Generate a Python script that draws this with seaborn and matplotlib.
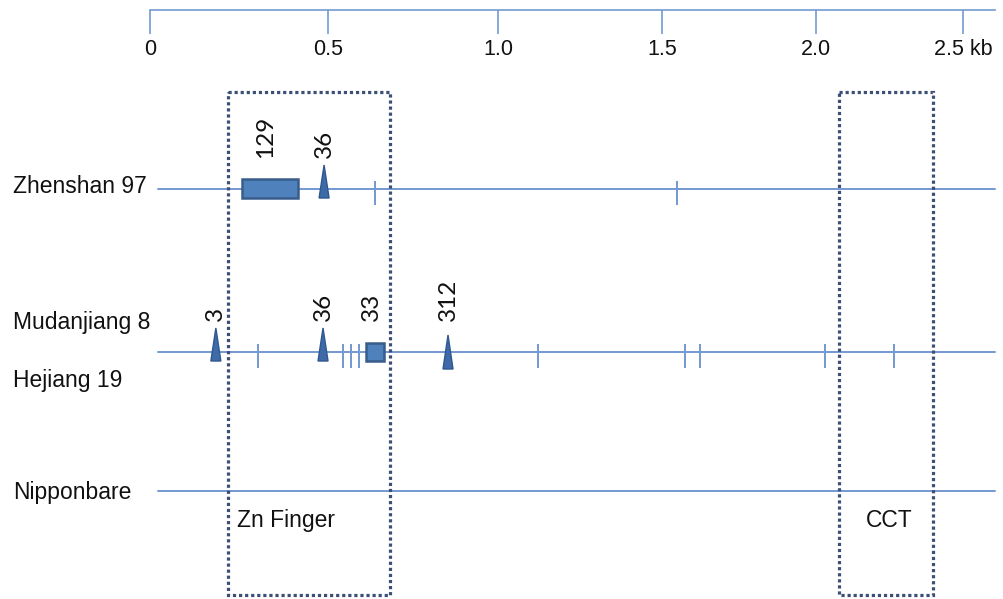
import numpy as np
import pandas as pd
import matplotlib
matplotlib.use("Agg")
import matplotlib.pyplot as plt
from matplotlib.patches import Rectangle, Polygon
import seaborn as sns

# ---------------- data (positions in kb) ----------------
ruler_kb = [0.0, 0.5, 1.0, 1.5, 2.0, 2.5]
ruler_labels = ["0", "0.5", "1.0", "1.5", "2.0", "2.5 kb"]

gene_rows = ["Zhenshan 97", "Mudanjiang 8 / Hejiang 19", "Nipponbare"]
gene_start = [0.022, 0.022, 0.022]
gene_end = [2.609, 2.609, 2.609]

row_names = ["Zhenshan 97", "Mudanjiang 8", "Hejiang 19", "Nipponbare"]

# Zhenshan 97 polymorphisms
zs_box_start = [0.258]
zs_box_end = [0.416]
zs_box_labels = ["129"]
zs_tri_pos = [0.489]
zs_tri_labels = ["36"]
zs_snps = [0.638, 1.549]

# Mudanjiang 8 / Hejiang 19 polymorphisms
mj_tri_pos = [0.185, 0.486, 0.853]
mj_tri_labels = ["3", "36", "312"]
mj_box_start = [0.612]
mj_box_end = [0.665]
mj_box_labels = ["33"]
mj_snps = [0.303, 0.544, 0.568, 0.591, 1.122, 1.575, 1.623, 2.031, 2.265]

domain_names = ["Zn Finger", "CCT"]
domain_start = [0.219, 2.078]
domain_end = [0.682, 2.398]

# ---------------- layout / style ----------------
W, H = 1004, 599
ruler_px = [150, 328, 498, 662, 816, 963]   # where the ruler's ticks sit
row_y = [189, 352, 491]                     # gene backbone rows (px from top)
name_y = [193, 329, 387, 499]               # baselines of the strain names
tri_tip = {"312": -17}
tri_base = {"312": 17}

LINE = "#7399d2"
FILL = "#4f81bd"
EDGE = "#385d8a"
TRI_FILL = "#3e6aa8"
TRI_EDGE = "#2f5890"
BOX = "#3c4f76"
TXT = "#111111"

K = np.array(ruler_kb, float)
P = np.array(ruler_px, float)


def fwd(v):
    v = np.asarray(v, float)
    shp = v.shape
    v = np.atleast_1d(v).copy()
    out = np.interp(v, K, P)
    lo = v < K[0]
    hi = v > K[-1]
    out[lo] = P[0] + (v[lo] - K[0]) * (P[1] - P[0]) / (K[1] - K[0])
    out[hi] = P[-1] + (v[hi] - K[-1]) * (P[-1] - P[-2]) / (K[-1] - K[-2])
    return out.reshape(shp)


def inv(p):
    p = np.asarray(p, float)
    shp = p.shape
    p = np.atleast_1d(p).copy()
    out = np.interp(p, P, K)
    lo = p < P[0]
    hi = p > P[-1]
    out[lo] = K[0] + (p[lo] - P[0]) * (K[1] - K[0]) / (P[1] - P[0])
    out[hi] = K[-1] + (p[hi] - P[-1]) * (K[-1] - K[-2]) / (P[-1] - P[-2])
    return out.reshape(shp)


sns.set_theme(style="white")
plt.rcParams["font.family"] = ["Liberation Sans", "DejaVu Sans"]

fig = plt.figure(figsize=(W / 100, H / 100), dpi=100)
fig.patch.set_facecolor("white")
ax = fig.add_axes([0, 0, 1, 1])
ax.set_xscale("function", functions=(fwd, inv))
ax.set_xlim(float(inv(0)), float(inv(W)))
ax.set_ylim(H, 0)
ax.axis("off")

# ---------------- ruler (a real axis) ----------------
ruler_end = float(inv(995))
axr = fig.add_axes([P[0] / W, 1 - 10 / H, (995 - P[0]) / W, 0.0005])
axr.set_xscale("function", functions=(fwd, inv))
axr.set_xlim(0, ruler_end)
axr.set_yticks([])
for s in ["top", "left", "right"]:
    axr.spines[s].set_visible(False)
axr.spines["bottom"].set_color(LINE)
axr.spines["bottom"].set_linewidth(1.2)
axr.set_xticks(ruler_kb)
axr.set_xticklabels(ruler_labels)
axr.tick_params(axis="x", bottom=True, direction="out", length=17.5, width=1.2,
                color=LINE, pad=3.5, labelsize=15.5, labelcolor=TXT)
axr.patch.set_alpha(0)

# ---------------- gene backbones (seaborn) ----------------
df = pd.DataFrame({
    "row": np.repeat(gene_rows, 2),
    "kb": np.ravel(np.column_stack([gene_start, gene_end])),
    "y": np.repeat(row_y, 2),
})
sns.lineplot(data=df, x="kb", y="y", units="row", estimator=None, sort=False,
             color=LINE, lw=1.4, legend=False, ax=ax)
ax.set_xlabel("")
ax.set_ylabel("")
ax.set_xlim(float(inv(0)), float(inv(W)))
ax.set_ylim(H, 0)

# ---------------- strain names ----------------
for name, yb in zip(row_names, name_y):
    ax.text(13 / W, 1 - yb / H, name, transform=ax.transAxes, ha="left",
            va="baseline", fontsize=16.5, color=TXT)


def snp_ticks(xs, y):
    ax.vlines(xs, y - 8, y + 16, color=LINE, lw=1.4, zorder=3)


NUMFONT = dict(fontsize=17.5, family=["Lato", "DejaVu Sans"], color=TXT)


def boxes(starts, ends, labels, y, h_top, h_bot):
    for s, e, lab in zip(starts, ends, labels):
        ax.add_patch(Rectangle((s, y - h_top), e - s, h_top + h_bot,
                               facecolor=FILL, edgecolor=EDGE, lw=1.8, zorder=4))
        xc = float(inv((fwd(s) + fwd(e)) / 2 - 4))
        ax.text(xc, y - 31, lab, rotation=90, ha="center", va="bottom", **NUMFONT)


def triangles(xs, labels, y):
    for x, lab in zip(xs, labels):
        px = float(fwd(x))
        tip = y + tri_tip.get(lab, -24)
        base = y + tri_base.get(lab, 9)
        verts = [(float(inv(px - 5)), base), (x, tip), (float(inv(px + 5)), base)]
        ax.add_patch(Polygon(verts, closed=True, facecolor=TRI_FILL,
                             edgecolor=TRI_EDGE, lw=1.0, zorder=4))
        ax.text(x, y - 31, lab, rotation=90, ha="center", va="bottom", **NUMFONT)


snp_ticks(zs_snps, row_y[0])
boxes(zs_box_start, zs_box_end, zs_box_labels, row_y[0], 10, 9)
triangles(zs_tri_pos, zs_tri_labels, row_y[0])

snp_ticks(mj_snps, row_y[1])
boxes(mj_box_start, mj_box_end, mj_box_labels, row_y[1], 9, 9)
triangles(mj_tri_pos, mj_tri_labels, row_y[1])

# ---------------- domain boxes ----------------
label_off = [9, 27]
for name, s, e, off in zip(domain_names, domain_start, domain_end, label_off):
    ax.add_patch(Rectangle((s, 92), e - s, 595 - 92, fill=False, edgecolor=BOX,
                           lw=2.3, linestyle=(0, (1, 0.9)), zorder=5))
    ax.annotate(name, xy=(s, 527), xytext=(off * 0.72, 0), textcoords="offset points",
                ha="left", va="baseline", fontsize=16.5, color=TXT)

fig.savefig("out.png", dpi=100, facecolor="white")
